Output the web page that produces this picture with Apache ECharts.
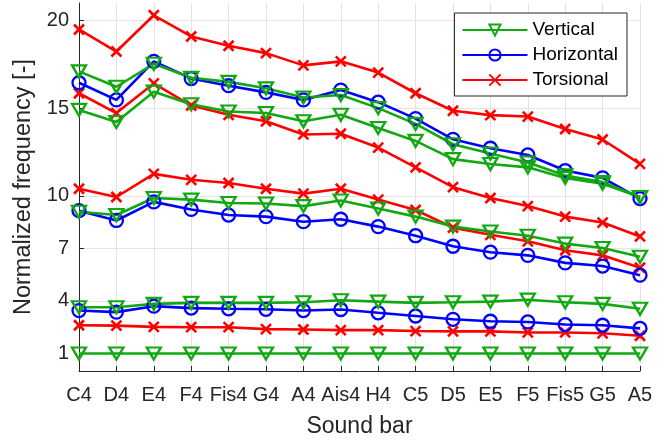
<!DOCTYPE html>
<html>
<head>
<meta charset="utf-8">
<script src="https://cdn.jsdelivr.net/npm/echarts@6/dist/echarts.min.js"></script>
<style>
  html, body { margin: 0; padding: 0; background: #fff; }
  #main { width: 665px; height: 443px; }
</style>
</head>
<body>
<div id="main"></div>
<script>
// sound bars on the x axis
const bars = ['C4', 'D4', 'E4', 'F4', 'Fis4', 'G4', 'A4', 'Ais4', 'H4', 'C5', 'D5', 'E5', 'F5', 'Fis5', 'G5', 'A5'];
const yTicks = [1, 4, 7, 10, 15, 20];

// vertical modes (green)
const vert1 = [1, 1, 1, 1, 1, 1, 1, 1, 1, 1, 1, 1, 1, 1, 1, 1];
const vert2 = [3.64, 3.64, 3.83, 3.89, 3.89, 3.89, 3.92, 4.04, 3.96, 3.89, 3.92, 3.96, 4.07, 3.92, 3.83, 3.55];
const vert3 = [9.09, 8.9, 9.87, 9.78, 9.59, 9.56, 9.41, 9.73, 9.27, 8.81, 8.24, 7.96, 7.72, 7.27, 7.02, 6.52];
const vert4 = [14.9, 14.21, 15.94, 15.22, 14.81, 14.72, 14.25, 14.62, 13.87, 13.13, 12.09, 11.81, 11.62, 11.02, 10.69, 9.93];
const vert5 = [17.1, 16.22, 17.53, 16.73, 16.5, 16.13, 15.61, 15.75, 15.0, 14.1, 12.94, 12.41, 11.9, 11.16, 10.78, 9.93];

// horizontal modes (blue)
const hor1 = [3.45, 3.36, 3.7, 3.59, 3.55, 3.52, 3.45, 3.51, 3.32, 3.14, 2.95, 2.84, 2.8, 2.65, 2.61, 2.43];
const hor2 = [9.15, 8.59, 9.65, 9.22, 8.9, 8.81, 8.52, 8.66, 8.24, 7.72, 7.12, 6.78, 6.6, 6.17, 5.99, 5.47];
const hor3 = [16.45, 15.47, 17.67, 16.69, 16.28, 15.9, 15.47, 16.03, 15.34, 14.4, 13.22, 12.71, 12.33, 11.44, 11.02, 9.84];

// torsional modes (red)
const tor1 = [2.61, 2.59, 2.52, 2.5, 2.5, 2.39, 2.37, 2.33, 2.33, 2.28, 2.26, 2.26, 2.2, 2.2, 2.15, 2.01];
const tor2 = [10.4, 9.93, 11.25, 10.91, 10.73, 10.4, 10.12, 10.4, 9.78, 9.19, 8.18, 7.77, 7.4, 6.89, 6.6, 5.89];
const tor3 = [15.85, 14.72, 16.41, 15.15, 14.62, 14.25, 13.5, 13.54, 12.75, 11.62, 10.49, 9.87, 9.41, 8.81, 8.47, 7.68];
const tor4 = [19.49, 18.23, 20.3, 19.09, 18.56, 18.14, 17.44, 17.67, 17.03, 15.85, 14.85, 14.6, 14.52, 13.81, 13.21, 11.82];

const GREEN = '#12a812';
const BLUE = '#0000ff';
const RED = '#ff0000';
const FONT = 'Liberation Sans';

function mk(name, data, color, kind) {
  let s = {
    name: name,
    type: 'line',
    data: data,
    lineStyle: { color: color, width: 2.6 },
    itemStyle: { color: 'rgba(0,0,0,0)', borderColor: color, borderWidth: 2.3 },
    emphasis: { disabled: true },
    animation: false,
    z: 2
  };
  if (kind == 'tri') {
    s.symbol = 'triangle';
    s.symbolRotate = 180;
    s.symbolSize = [14, 12];
  } else if (kind == 'circ') {
    s.symbol = 'circle';
    s.symbolSize = 13;
  } else {
    s.symbol = 'path://M0,0L10,10M10,0L0,10';
    s.symbolSize = 10;
    s.itemStyle.borderWidth = 2.6;
  }
  return s;
}

let series = [
  mk('Torsional', tor1, RED, 'x'),
  mk('Torsional', tor2, RED, 'x'),
  mk('Torsional', tor3, RED, 'x'),
  mk('Torsional', tor4, RED, 'x'),
  mk('Horizontal', hor1, BLUE, 'circ'),
  mk('Horizontal', hor2, BLUE, 'circ'),
  mk('Horizontal', hor3, BLUE, 'circ'),
  mk('Vertical', vert1, GREEN, 'tri'),
  mk('Vertical', vert2, GREEN, 'tri'),
  mk('Vertical', vert3, GREEN, 'tri'),
  mk('Vertical', vert4, GREEN, 'tri'),
  mk('Vertical', vert5, GREEN, 'tri')
];

let chart = echarts.init(document.getElementById('main'));
let option = {
  backgroundColor: '#fff',
  animation: false,
  grid: { left: 79, right: 25, top: 3, bottom: 67 },
  legend: {
    data: ['Vertical', 'Horizontal', 'Torsional'],
    orient: 'vertical',
    right: 38,
    top: 13,
    backgroundColor: '#fff',
    borderColor: '#262626',
    borderWidth: 1,
    borderRadius: 0,
    padding: [7, 9, 6, 7],
    itemGap: 5,
    itemWidth: 65,
    itemHeight: 14,
    textStyle: { fontFamily: FONT, fontSize: 19, lineHeight: 20, color: '#000' }
  },
  xAxis: {
    type: 'category',
    data: bars,
    boundaryGap: false,
    name: 'Sound bar',
    nameLocation: 'middle',
    nameGap: 44,
    nameTextStyle: { fontFamily: FONT, fontSize: 23, color: '#262626' },
    axisLine: { lineStyle: { color: '#262626', width: 1 } },
    axisTick: { inside: true, length: 5, alignWithLabel: true, lineStyle: { color: '#262626' } },
    axisLabel: { interval: 0, fontFamily: FONT, fontSize: 20, color: '#262626', margin: 14 },
    splitLine: { show: true, lineStyle: { color: '#e3e3e3', width: 1 } }
  },
  yAxis: {
    type: 'value',
    min: 0,
    max: 21,
    name: 'Normalized frequency [-]',
    nameLocation: 'middle',
    nameGap: 40,
    nameTextStyle: { fontFamily: FONT, fontSize: 23.5, color: '#262626' },
    axisLine: { show: true, lineStyle: { color: '#262626', width: 1 } },
    axisTick: { show: true, inside: true, length: 5, customValues: yTicks, lineStyle: { color: '#262626' } },
    axisLabel: { customValues: yTicks, fontFamily: FONT, fontSize: 20, color: '#262626', margin: 10 },
    splitLine: { show: true, lineStyle: { color: '#e3e3e3', width: 1 } }
  },
  series: series
};
chart.setOption(option);
</script>
</body>
</html>
